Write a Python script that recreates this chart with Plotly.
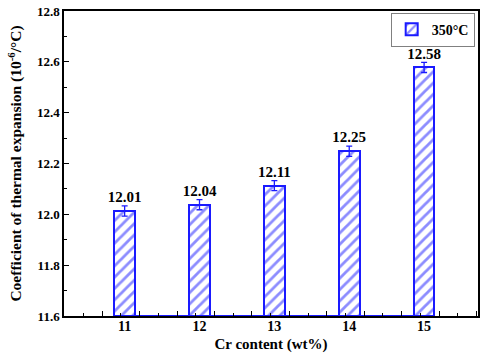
import plotly.graph_objects as go

categories = [11, 12, 13, 14, 15]
values = [12.013, 12.038, 12.113, 12.248, 12.578]
errors = [0.02, 0.02, 0.02, 0.02, 0.02]
value_labels = ["12.01", "12.04", "12.11", "12.25", "12.58"]
y_tick_vals = [11.6, 11.8, 12.0, 12.2, 12.4, 12.6, 12.8]
series_name = "350\u00b0C"

BLUE = "#1a1aff"
FONT = "Liberation Serif"
bar_w = 0.275
y_min, y_max = 11.6, 12.8
x_min, x_max = 10.19, 15.72

fig = go.Figure()
fig.add_trace(go.Bar(
    x=categories, y=[v - y_min for v in values], base=y_min, width=bar_w,
    name=series_name,
    marker=dict(color="white", line=dict(color=BLUE, width=2),
                pattern=dict(shape="/", fgcolor=BLUE, bgcolor="white", size=8, solidity=0.35)),
    error_y=dict(type="data", array=errors, color=BLUE, thickness=1.3, width=3),
    showlegend=True,
))
# value labels above error bars
fig.add_trace(go.Scatter(
    x=categories, y=[v + e for v, e in zip(values, errors)], mode="text",
    text=value_labels, textposition="top center",
    textfont=dict(family=FONT, size=15, color="black", weight="bold"),
    showlegend=False, hoverinfo="skip", cliponaxis=False,
))
# baseline between first and last bars
fig.add_trace(go.Scatter(
    x=[categories[0] - bar_w / 2, categories[-1] + bar_w / 2], y=[y_min, y_min],
    mode="lines", line=dict(color=BLUE, width=2), showlegend=False, hoverinfo="skip",
    cliponaxis=False,
))

fig.update_layout(
    width=484, height=356,
    margin=dict(l=64, r=4, t=7, b=40),
    paper_bgcolor="white", plot_bgcolor="white",
    font=dict(family=FONT, size=13, color="black"),
    xaxis=dict(range=[x_min, x_max], tick0=10.7, dtick=0.5,
               ticks="inside", ticklen=5, tickwidth=1.2, tickcolor="black",
               minor=dict(ticks="inside", ticklen=3, dtick=0.25, tick0=10.45, tickcolor="black"),
               showticklabels=False, showgrid=False, zeroline=False,
               showline=True, linecolor="black", linewidth=1.5, mirror=True,
               title=dict(text="<b>Cr content (wt%)</b>", font=dict(family=FONT, size=15), standoff=22)),
    xaxis2=dict(range=[x_min, x_max], overlaying="x", anchor="y", side="bottom",
                tickvals=categories, ticktext=[str(c) for c in categories],
                ticks="", showgrid=False, zeroline=False, showline=False,
                tickfont=dict(family=FONT, size=14, weight="bold")),
    yaxis=dict(range=[y_min, y_max], tickvals=y_tick_vals, ticktext=[f"{v:.1f}" for v in y_tick_vals],
               ticks="inside", ticklen=5, tickwidth=1, tickcolor="black", ticklabeloverflow="allow",
               minor=dict(ticks="inside", ticklen=3, dtick=0.1, tick0=11.6, tickcolor="black"),
               showgrid=False, zeroline=False,
               showline=True, linecolor="black", linewidth=1.5, mirror=True,
               tickfont=dict(family=FONT, size=13, weight="bold"),
               title=dict(text="<b>Coefficient of thermal expansion (10<sup>-6</sup>/\u00b0C)</b>",
                          font=dict(family=FONT, size=15.5), standoff=11)),
    legend=dict(x=0.992, y=0.995, xanchor="right", yanchor="top",
                bordercolor="gray", borderwidth=1, bgcolor="white",
                font=dict(family=FONT, size=14, weight="bold"),
                tracegroupgap=0),
    bargap=0,
)
# invisible trace to show the label axis
fig.add_trace(go.Scatter(x=[x_min], y=[y_min], xaxis="x2", mode="markers",
                         marker=dict(opacity=0), showlegend=False, hoverinfo="skip"))

fig.write_html("out.html", config={"displayModeBar": False},
               post_script="document.body.style.margin='0';document.body.style.padding='0';")
